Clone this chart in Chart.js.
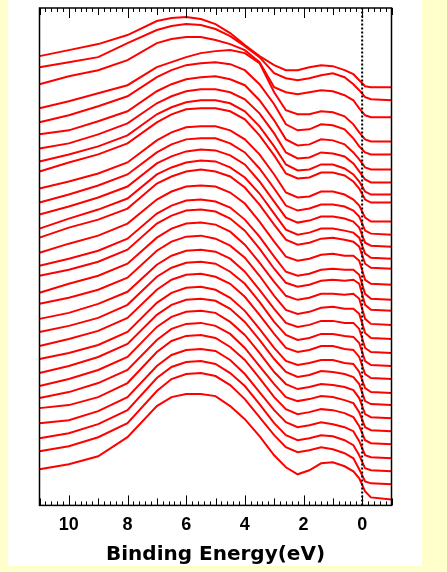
<!DOCTYPE html>
<html>
<head>
<meta charset="utf-8">
<script src="https://cdn.jsdelivr.net/npm/chart.js@4.4.1/dist/chart.umd.min.js"></script>
<style>
  html, body { margin: 0; padding: 0; background: #ffffcc; }
  #panel { position: absolute; left: 8px; top: 0; width: 414px; height: 566px; background: #fff; }
</style>
</head>
<body>
<div id="panel"><canvas id="chart" width="414" height="566"></canvas></div>
<script>
// binding energies (eV) where each spectrum was read
const energies = [11, 10, 9, 8, 7, 6.5, 6, 5.5, 5, 4.5, 4, 3.5, 3, 2.6, 2.2, 1.8, 1.4, 1, 0.6, 0.3, 0.1, -0.1, -0.3, -1];
const tickLabels = [10, 8, 6, 4, 2, 0];
const fermiLevel = 0;

// vertical offset of each spectrum in the stack (top spectrum first)
const offsets = [417, 404, 387, 363, 350, 335, 322, 310, 302, 283, 270, 258, 246, 236, 220, 205,
  194, 180, 166, 152, 139, 126, 112, 100, 87, 74, 61, 47, 34, 21, 6];

// intensity of each spectrum above its own offset (arb. units)
const spectra = [
  [31,37,43,52,66,69,70,68,63,54,42,31,22,17,17,20,22,21,17,13,7,1,0,0],
  [33,38,43,57,70,74,76,75,71,64,54,43,27,22,20,22,25,27,23,16,10,3,1,0],
  [33,41,47,57,74,78,80,80,77,73,67,55,30,25,23,25,27,26,22,17,9,2,0,0],
  [33,40,48,56,74,79,84,88,90,91,88,78,49,31,27,27,30,29,25,17,9,2,0,0],
  [32,39,48,58,77,84,89,91,92,90,84,70,50,30,24,25,30,29,25,16,8,2,0,0],
  [35,39,48,58,78,85,90,92,93,90,84,69,49,30,24,25,30,29,25,17,10,2,0,0],
  [34,39,48,59,79,86,91,93,93,90,83,69,49,30,24,25,30,29,26,19,11,3,0,0],
  [33,40,48,59,80,87,92,94,94,91,83,68,48,30,24,25,30,30,26,20,13,3,0,0],
  [31,40,48,59,80,88,93,94,94,91,83,67,47,29,24,25,30,30,27,21,14,3,0,0],
  [33,40,48,59,81,89,94,95,95,91,82,67,47,29,24,25,30,30,27,22,16,4,0,0],
  [32,40,49,60,82,90,95,96,96,91,82,66,46,29,24,26,30,30,28,24,18,4,1,0],
  [32,40,49,60,83,90,95,97,96,91,82,65,45,29,24,26,30,30,28,25,19,4,1,0],
  [30,40,49,60,84,91,96,98,97,91,81,65,45,29,24,26,30,30,28,26,21,5,1,0],
  [31,41,49,60,85,92,97,99,97,92,81,64,44,29,24,26,30,31,29,27,22,5,1,0],
  [32,41,49,61,85,93,98,99,98,92,81,63,43,28,24,26,30,31,29,29,24,5,1,0],
  [34,41,49,61,86,94,99,100,98,92,80,63,43,28,24,26,30,31,30,30,25,6,1,0],
  [35,41,49,61,87,95,100,101,99,92,80,62,42,28,24,26,30,31,30,31,27,6,1,0],
  [32,41,49,61,87,96,101,102,100,93,80,62,43,29,25,27,31,31,30,31,26,6,1,0],
  [35,41,49,61,88,97,102,103,100,93,81,63,43,29,25,27,31,32,30,30,25,6,1,0],
  [34,40,49,61,88,97,102,103,101,94,81,63,44,30,26,28,32,32,30,30,24,5,1,0],
  [34,40,48,61,89,98,103,104,102,94,82,64,44,31,26,28,32,32,30,29,23,5,1,0],
  [33,40,48,61,89,99,104,105,102,95,82,64,45,31,27,29,33,33,30,29,22,5,1,0],
  [34,40,48,61,90,100,105,106,103,95,82,64,45,32,28,30,33,33,30,29,21,5,1,0],
  [32,39,48,61,90,100,105,106,104,96,83,65,46,33,28,30,34,33,31,28,21,4,1,0],
  [32,39,48,61,91,101,106,107,105,96,83,65,46,34,29,31,34,33,31,28,20,4,1,0],
  [33,39,48,61,91,102,107,108,105,97,83,65,47,34,30,32,35,34,31,28,19,4,1,0],
  [36,39,47,61,92,103,108,109,106,97,84,66,47,35,30,32,35,34,31,27,18,4,1,0],
  [35,38,47,61,92,103,108,109,107,98,84,66,48,36,31,33,36,34,31,27,17,3,1,0],
  [33,38,47,61,93,104,109,110,107,98,85,67,48,36,31,33,36,35,31,26,16,3,1,0],
  [33,38,47,61,93,105,110,111,108,99,85,67,49,37,32,34,37,35,31,26,15,3,1,0],
  [30,35,43,62,93,102,105,105,103,93,80,63,44,32,25,29,36,37,33,28,21,8,2,0]
];

const datasets = spectra.map((row, i) => ({
  data: energies.map((e, j) => ({ x: e, y: offsets[i] + row[j] })),
  borderColor: '#ff0000',
  borderWidth: 2,
  pointRadius: 0,
  tension: 0,
  order: 1
}));

// dotted line at the Fermi level
datasets.push({
  data: [{ x: fermiLevel, y: 0 }, { x: fermiLevel, y: 496 }],
  borderColor: '#000',
  borderWidth: 2,
  borderDash: [2, 2],
  pointRadius: 0,
  order: 0
});

// frame plus inward ticks on top and bottom
const frameTicks = {
  id: 'frameTicks',
  afterDatasetsDraw(chart) {
    const { ctx, chartArea: a, scales: { x } } = chart;
    ctx.save();
    ctx.strokeStyle = '#000';
    ctx.lineWidth = 1;
    ctx.beginPath();
    for (let k = 0; k <= 60; k++) {
      const v = Math.round((-1 + k * 0.2) * 10) / 10;
      const px = Math.round(x.getPixelForValue(v)) + 0.5;
      let len = 4;
      if (Number.isInteger(v)) len = v % 2 === 0 ? 10 : 7;
      ctx.moveTo(px, a.bottom); ctx.lineTo(px, a.bottom - len);
      ctx.moveTo(px, a.top); ctx.lineTo(px, a.top + len);
    }
    ctx.stroke();
    ctx.lineWidth = 1.5;
    ctx.strokeRect(a.left, a.top, a.right - a.left, a.bottom - a.top);
    ctx.restore();
  }
};

new Chart(document.getElementById('chart'), {
  type: 'line',
  data: { datasets },
  options: {
    responsive: false,
    animation: false,
    devicePixelRatio: 1,
    layout: { padding: { left: 31.5, right: 30.5, top: 8, bottom: 0 } },
    plugins: { legend: { display: false }, tooltip: { enabled: false } },
    scales: {
      x: {
        type: 'linear',
        min: -1,
        max: 11,
        reverse: true,
        grid: { display: false, drawTicks: false },
        border: { display: false },
        afterBuildTicks: axis => { axis.ticks = tickLabels.map(v => ({ value: v })); },
        ticks: {
          color: '#000',
          padding: 9,
          maxRotation: 0,
          font: { family: '"Liberation Sans", Arial, sans-serif', size: 18, weight: 'bold' }
        },
        title: {
          display: true,
          text: 'Binding Energy(eV)',
          color: '#000',
          padding: { top: 0, bottom: 1 },
          font: { family: '"DejaVu Sans", sans-serif', size: 20, weight: 'bold', lineHeight: 1 }
        }
      },
      y: { display: false, min: 0, max: 496 }
    }
  },
  plugins: [frameTicks]
});
</script>
</body>
</html>
